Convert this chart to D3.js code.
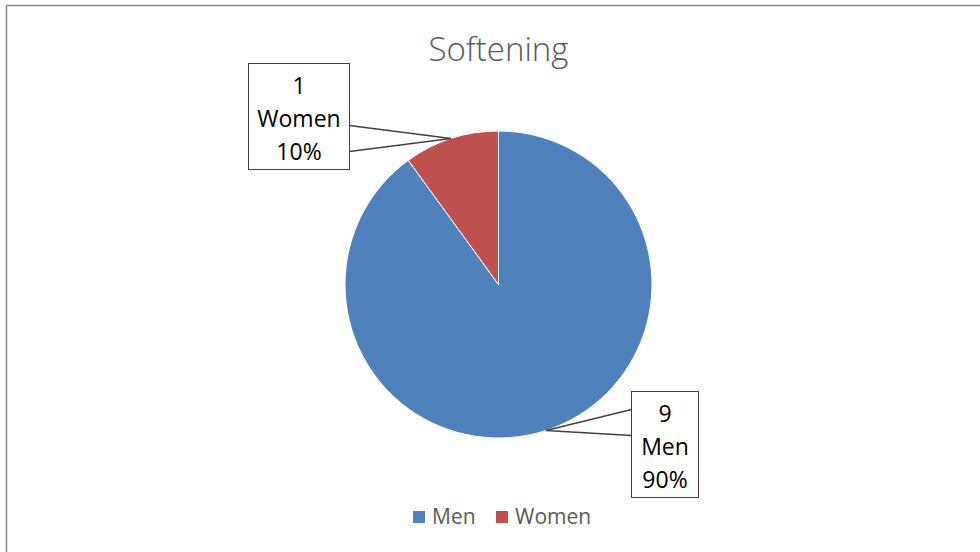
<!DOCTYPE html>
<html>
<head>
<meta charset="utf-8">
<script src="https://cdn.jsdelivr.net/npm/d3@7"></script>
<style>
  body { margin: 0; background: #fff; }
  text { font-family: "Open Sans", Lato, sans-serif; }
</style>
</head>
<body>
<div id="chart"></div>
<script>
const width = 980;
const height = 552;

// data
const categories = ["Men", "Women"];
const counts = [9, 1];
const colors = ["#4F81BD", "#C0504D"];
const chartTitle = "Softening";

const svg = d3.select("#chart").append("svg")
  .attr("width", width)
  .attr("height", height);

// chart border
svg.append("rect")
  .attr("x", 6.5).attr("y", 5.5)
  .attr("width", width + 10).attr("height", height + 10)
  .attr("fill", "#fff")
  .attr("stroke", "#8c8c8c")
  .attr("stroke-width", 1.5);

// title
svg.append("text")
  .attr("x", 498.5).attr("y", 61)
  .attr("text-anchor", "middle")
  .attr("fill", "#595959")
  .style("font-size", "33px")
  .style("font-weight", 300)
  .text(chartTitle);

const cx = 498.5, cy = 284.5, r = 153.5;
const total = d3.sum(counts);

const pie = d3.pie().sort(null).value(d => d.value);
const slices = pie(categories.map((c, i) => ({ name: c, value: counts[i], color: colors[i] })));

const arc = d3.arc().innerRadius(0).outerRadius(r);

const g = svg.append("g").attr("transform", `translate(${cx},${cy})`);

g.selectAll("path")
  .data(slices)
  .enter()
  .append("path")
  .attr("d", arc)
  .attr("fill", d => d.data.color)
  .attr("stroke", "#fff")
  .attr("stroke-width", 1);

// callout boxes (x, y, w, h) relative to page
const boxes = [
  { x: 631.5, y: 391.5, w: 67, h: 106, side: "left" },
  { x: 248.5, y: 63.5, w: 101, h: 106, side: "right" }
];

slices.forEach((d, i) => {
  const b = boxes[i];
  const mid = (d.startAngle + d.endAngle) / 2;
  const px = cx + r * Math.sin(mid);
  const py = cy - r * Math.cos(mid);
  const ex = b.side === "left" ? b.x : b.x + b.w;
  const yTop = b.side === "left" ? b.y + 18 : b.y + 62;

  const pts = [[ex, yTop], [px, py], [ex, yTop + 26]];

  svg.append("rect")
    .attr("x", b.x).attr("y", b.y)
    .attr("width", b.w).attr("height", b.h)
    .attr("fill", "#fff")
    .attr("stroke", "#404040")
    .attr("stroke-width", 1);

  svg.append("path")
    .attr("d", d3.line()(pts))
    .attr("fill", "none")
    .attr("stroke", "#404040")
    .attr("stroke-width", 1.5);

  const pct = Math.round(d.data.value / total * 100) + "%";
  const lines = [d.data.value, d.data.name, pct];
  lines.forEach((t, j) => {
    svg.append("text")
      .attr("x", b.x + b.w / 2)
      .attr("y", b.y + 30 + j * 33)
      .attr("text-anchor", "middle")
      .attr("fill", "#000")
      .style("font-size", "23px")
      .text(t);
  });
});

// legend
const legend = svg.append("g");
const legendX = [413, 496];
categories.forEach((c, i) => {
  legend.append("rect")
    .attr("x", legendX[i]).attr("y", 511)
    .attr("width", 12).attr("height", 12)
    .attr("fill", colors[i]);
  legend.append("text")
    .attr("x", legendX[i] + 19).attr("y", 524)
    .attr("fill", "#595959")
    .style("font-size", "21px")
    .text(c);
});
</script>
</body>
</html>
